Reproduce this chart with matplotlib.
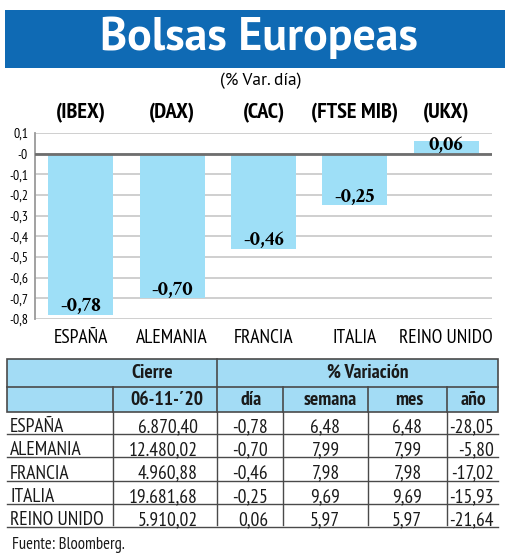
import numpy as np
import matplotlib.pyplot as plt
from matplotlib.patches import Rectangle
from matplotlib.ticker import FuncFormatter

# Datos del gráfico
paises = ['ESPAÑA', 'ALEMANIA', 'FRANCIA', 'ITALIA', 'REINO UNIDO']
indices = ['(IBEX)', '(DAX)', '(CAC)', '(FTSE MIB)', '(UKX)']
var_dia = [-0.78, -0.70, -0.46, -0.25, 0.06]

# Datos de la tabla
cierre = ['6.870,40', '12.480,02', '4.960,88', '19.681,68', '5.910,02']
dia_txt = ['-0,78', '-0,70', '-0,46', '-0,25', '0,06']
semana = ['6,48', '7,99', '7,98', '9,69', '5,97']
mes = ['6,48', '7,99', '7,98', '9,69', '5,97']
anio = ['-28,05', '-5,80', '-17,02', '-15,93', '-21,64']

W, H = 520, 557
NARROW = ['PT Sans Narrow', 'Liberation Sans', 'DejaVu Sans']
SANS = ['PT Sans', 'Liberation Sans', 'DejaVu Sans']
SERIF = ['Crimson Text', 'Liberation Serif', 'DejaVu Serif']
AZUL = '#0f6ab4'
CELESTE = '#a3dcf5'
BARRA = '#9edff7'


def fx(x):
    return x / W


def fy(y):
    return 1 - y / H


fig = plt.figure(figsize=(W / 100, H / 100), dpi=100)

# Cabecera azul con el título
fig.patches.append(Rectangle((fx(5), fy(68)), fx(500), 58 / H, transform=fig.transFigure,
                             facecolor=AZUL, edgecolor='none'))
fig.text(fx(259), fy(38), 'Bolsas Europeas', color='white', fontsize=33, fontweight='bold',
         family=SANS, ha='center', va='center')
fig.text(fx(261), fy(81), '(% Var. día)', fontsize=12.5, family=SANS, ha='center', va='center')

# Gráfico de barras
ax = fig.add_axes([fx(35), fy(319), fx(492 - 35), (319 - 133) / H])
x = np.arange(len(paises))
ax.bar(x, var_dia, width=0.71, color=BARRA, zorder=2)
ax.set_xlim(-0.5, 4.5)
ax.set_ylim(-0.8, 0.1)
ax.set_yticks(np.arange(-0.8, 0.11, 0.1))
ax.yaxis.set_major_formatter(FuncFormatter(lambda v, p: ('%g' % round(v, 1)).replace('.', ',')))
ax.grid(axis='y', color='#cccccc', linewidth=1.3, zorder=0)
ax.axhline(0, color='#6e6e6e', linewidth=2, zorder=3)
ax.set_xticks(x)
ax.set_xticklabels(paises, family=NARROW, fontsize=14)
ax.tick_params(axis='x', length=0, pad=7)
ax.tick_params(axis='y', length=0, pad=5, labelsize=10)
for lbl in ax.get_yticklabels():
    lbl.set_family(NARROW)
for s in ['top', 'right', 'bottom']:
    ax.spines[s].set_visible(False)
ax.spines['left'].set_color('#9a9a9a')
ax.spines['left'].set_linewidth(1.3)

for i, v in enumerate(var_dia):
    ax.annotate(('%.2f' % v).replace('.', ','), xy=(i, min(v, 0)), xytext=(0, 2.5),
                textcoords='offset points', ha='center', va='baseline',
                fontsize=15, fontweight='bold', family=SERIF, zorder=4)
    # índice encima de cada barra
    ax.annotate(indices[i], xy=(i, 0.1), xytext=(0, 10.5), textcoords='offset points',
                ha='center', va='baseline', fontsize=16, fontweight='bold', family=NARROW,
                annotation_clip=False)

# Tabla
cols = [7, 113, 217, 283, 368, 447, 498]
linea = '#4a4a4a'
fig.patches.append(Rectangle((fx(7), fy(412)), fx(491), 53 / H, transform=fig.transFigure,
                             facecolor=CELESTE, edgecolor=linea, linewidth=1.2))
fig.add_artist(plt.Line2D([fx(7), fx(498)], [fy(387), fy(387)], color=linea, lw=1.2))
for c in cols[1:-1]:
    top = 387 if c != 217 else 359
    fig.add_artist(plt.Line2D([fx(c), fx(c)], [fy(top), fy(412)], color=linea, lw=1.2))

cab = dict(fontsize=14, fontweight='bold', family=NARROW, va='center', color='#1a1a1a')
fig.text(fx(152), fy(373), 'Cierre', ha='center', **cab)
fig.text(fx(368), fy(373), '% Variación', ha='center', **cab)
fig.text(fx(167), fy(400), '06-11-´20', ha='center', **cab)
fig.text(fx(251), fy(400), 'día', ha='center', **cab)
fig.text(fx(330), fy(400), 'semana', ha='center', **cab)
fig.text(fx(409), fy(400), 'mes', ha='center', **cab)
fig.text(fx(473), fy(400), 'año', ha='center', **cab)

filas = list(zip(paises, cierre, dia_txt, semana, mes, anio))
derechas = [198, 268, 340, 422, 494]
y0, dy = 412, 23.2
txt = dict(fontsize=14, family=NARROW, va='baseline', color='#1a1a1a')
for r, fila in enumerate(filas):
    ybase = y0 + dy * (r + 1) - 3
    fig.text(fx(10), fy(ybase), fila[0], ha='left', **txt)
    for k, val in enumerate(fila[1:]):
        fig.text(fx(derechas[k]), fy(ybase), val, ha='right', **txt)
    yl = y0 + dy * (r + 1) - 1
    fig.add_artist(plt.Line2D([fx(7), fx(498)], [fy(yl), fy(yl)], color=linea, lw=1.0))
for c in cols[1:-1]:
    fig.add_artist(plt.Line2D([fx(c), fx(c)], [fy(412), fy(y0 + dy * 5 - 3)], color=linea, lw=1.0))

fig.text(fx(12), fy(545), 'Fuente: Bloomberg.', fontsize=12, family=NARROW, ha='left',
         va='center', color='#1a1a1a')

fig.savefig('out.png', dpi=100)
